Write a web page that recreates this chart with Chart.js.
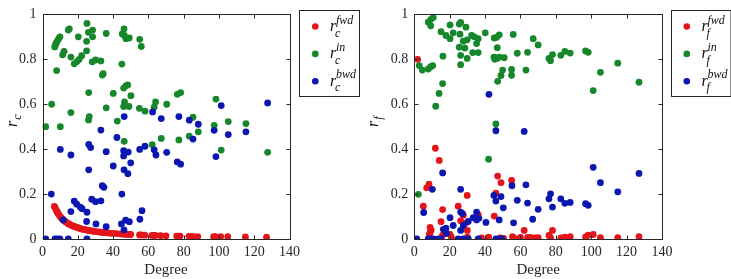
<!DOCTYPE html>
<html>
<head>
<meta charset="utf-8">
<script src="https://cdn.jsdelivr.net/npm/chart.js@4.4.1/dist/chart.umd.min.js"></script>
<style>
html, body { margin: 0; padding: 0; background: #fff; }
#wrap { position: relative; width: 731px; height: 279px; }
canvas { position: absolute; top: 0; }
</style>
</head>
<body>
<div id="wrap">
	<canvas id="left" width="365" height="279" style="left:0"></canvas>
	<canvas id="right" width="366" height="279" style="left:365px"></canvas>
</div>
<script>
// axis ticks
var xTicks = [0, 20, 40, 60, 80, 100, 120, 140];
var yTicks = [0, 0.2, 0.4, 0.6, 0.8, 1];
var seriesSup = ["fwd", "in", "bwd"];
var seriesColors = ["#e3151b", "#17872b", "#0b17b0"];

// left panel : r_c  ([degree, value])
var cFwd = [[6.7,0.145],[7.1,0.141],[7.6,0.132],[8,0.125],[8.4,0.119],[8.8,0.114],[9.3,0.108],[9.9,0.101],[10.5,0.095],
	[11.2,0.089],[11.8,0.085],[12.4,0.081],[13,0.077],[13.7,0.073],[14.6,0.068],[15.2,0.066],[16.1,0.062],[17,0.059],
	[18,0.056],[19,0.053],[20,0.05],[21,0.048],[22,0.045],[23,0.043],[24,0.042],[25,0.04],[26,0.038],[27,0.037],
	[28,0.036],[29,0.034],[30,0.033],[31.5,0.032],[33,0.03],[34,0.029],[35,0.029],[36,0.028],[38,0.026],[40,0.025],
	[42,0.024],[44,0.023],[45,0.022],[46,0.022],[47,0.021],[48,0.021],[49,0.02],[50,0.02],[55,0.018],[56,0.018],
	[58,0.017],[62,0.016],[63,0.016],[64,0.016],[67,0.015],[70,0.014],[76,0.013],[77,0.013],[78,0.013],[83,0.012],
	[85,0.012],[88,0.011],[97,0.01],[98,0.01],[101,0.01],[105,0.01],[115,0.009],[127,0.008]];
var cIn = [[1.8,0.50],[5.2,0.60],[8,0.75],[6.9,0.855],[7.3,0.862],[7.7,0.872],[8.4,0.882],[9.2,0.892],[9.9,0.90],
	[10.1,0.50],[11.4,0.82],[12.2,0.835],[14.6,0.93],[15.2,0.935],[16.1,0.81],[16.1,0.563],[18,0.78],[19.5,0.79],
	[20.3,0.90],[20.8,0.80],[22.2,0.816],[25,0.838],[25.2,0.96],[25,0.88],[26,0.92],[26.2,0.652],[26.1,0.53],
	[26.5,0.545],[28.4,0.93],[28.4,0.90],[28.2,0.789],[30.1,0.797],[33.1,0.793],[33.9,0.73],[34.4,0.736],[36.1,0.915],
	[36.1,0.584],[40.1,0.648],[42.4,0.525],[45,0.779],[45.2,0.913],[46.2,0.935],[46.4,0.906],[47.3,0.892],[49.2,0.895],
	[46,0.672],[47.3,0.682],[48.3,0.686],[50.1,0.638],[46.5,0.61],[46,0.59],[49,0.59],[46.3,0.435],[55.1,0.889],
	[56,0.857],[54.9,0.582],[58.1,0.569],[62.2,0.42],[63.3,0.587],[64.1,0.61],[67.3,0.448],[70.4,0.60],[76.4,0.644],
	[78.3,0.652],[77.3,0.441],[83.2,0.458],[85.3,0.542],[88.3,0.477],[97.3,0.506],[98.3,0.623],[101.3,0.396],
	[105.3,0.523],[115.3,0.514],[127.6,0.386]];
var cBwd = [[1.8,0],[7.1,0],[8.4,0],[9.9,0],[14.6,0],[25.2,0],[5,0.20],[10.1,0.399],[11.8,0.085],[16.1,0.374],
	[16.1,0.122],[18,0.169],[19.4,0.155],[21.4,0.142],[22.4,0.135],[25.2,0.119],[25,0.078],[26.2,0.421],[27.3,0.407],
	[26.2,0.308],[27.9,0.177],[30.1,0.166],[33.1,0.17],[30.3,0.067],[33.1,0.485],[33.9,0.237],[34.8,0.23],[36.1,0.389],
	[36.1,0.055],[40.1,0.325],[42.2,0.452],[44.7,0.067],[45,0.20],[46.2,0.041],[46.3,0.545],[46,0.393],[46,0.37],
	[46.2,0.308],[47.1,0.084],[48.4,0.291],[48.6,0.387],[49.2,0.077],[50,0.339],[55.2,0.088],[56.4,0.126],[55.1,0.399],
	[58.1,0.413],[62.4,0.566],[63.3,0.397],[64.3,0.374],[67.3,0.536],[70.4,0.386],[76.4,0.343],[78.3,0.333],[77.3,0.545],
	[83.2,0.529],[85.3,0.445],[88.3,0.511],[97.3,0.484],[98.3,0.367],[101.3,0.594],[105.3,0.465],[115.3,0.477],[127.6,0.606]];

// right panel : r_f
var fFwd = [[1.9,0.80],[5.1,0.146],[7,0.228],[8.3,0.244],[8.9,0.052],[9.5,0.04],[8.5,0.02],[9,0.03],[11.9,0.404],
	[14.1,0.35],[15.1,0.077],[16,0.131],[16,0.017],[20.2,0.02],[21,0.008],[24.8,0.146],[26.2,0.081],[27.7,0.106],
	[29,0.071],[29.9,0.194],[30,0.038],[30,0.008],[36.1,0.108],[38,0.005],[42,0.008],[45.2,0.102],[46.1,0.204],
	[47.1,0.28],[49,0.251],[48.5,0.005],[50.5,0.003],[55,0.261],[55.5,0.01],[57,0.002],[60,0.007],[62.1,0.038],
	[64,0.007],[65.5,0.007],[68.2,0.005],[70,0.006],[76.1,0.016],[77,0.006],[78.1,0.038],[82.8,0.005],[85.1,0.008],
	[88.1,0.01],[96.8,0.009],[98.3,0.017],[101.1,0.02],[105.2,0.006],[115,0.006],[127,0.01]];
var fIn = [[2.3,0.199],[2.8,0.772],[4.5,0.752],[7.9,0.757],[9.3,0.767],[10.4,0.772],[7.9,0.965],[9.4,0.978],
	[10.7,0.986],[9.3,0.949],[12.1,0.591],[14,0.648],[16,0.692],[16.2,0.814],[15.1,0.923],[17.9,0.906],[20.2,0.892],
	[20.2,0.953],[22,0.918],[25.4,0.957],[26.2,0.964],[25.8,0.912],[29.2,0.943],[27.7,0.881],[25.4,0.854],[28.6,0.85],
	[29.9,0.887],[26.2,0.818],[29.9,0.804],[26.2,0.776],[32.4,0.906],[33.9,0.90],[36.1,0.892],[35.2,0.87],[33,0.83],
	[36.1,0.83],[40.1,0.918],[42,0.355],[45.2,0.895],[46.5,0.898],[48,0.909],[46.9,0.852],[45,0.81],[46.9,0.805],
	[48,0.81],[45.5,0.80],[50.8,0.807],[49.9,0.752],[49,0.728],[47.1,0.702],[46.1,0.512],[55.9,0.911],[55,0.755],
	[55,0.729],[58.2,0.827],[63.1,0.752],[64,0.831],[67.2,0.892],[70,0.864],[76.1,0.804],[77,0.794],[78.1,0.821],
	[82.8,0.818],[85.1,0.835],[88.1,0.828],[96.8,0.837],[98.3,0.831],[101.1,0.661],[105.2,0.742],[115,0.783],[127,0.698]];
var fBwd = [[1.4,0],[7.9,0],[9.3,0],[10.7,0],[13.6,0],[15.1,0],[24.8,0],[27.7,0],[30.5,0],[36.1,0],[46.1,0],[48,0],
	[49.5,0],[5.3,0.118],[10.2,0.221],[16,0.294],[16.4,0.043],[17.9,0.048],[18.2,0.025],[20.2,0.095],[22,0.06],
	[26.2,0.221],[26.2,0.12],[27.2,0.113],[27.7,0.06],[26.2,0.038],[30.5,0.078],[33.3,0.095],[35.2,0.085],[35.2,0.12],
	[36.5,0.092],[40.5,0.074],[42.2,0.644],[45,0.194],[46.1,0.169],[46.1,0.482],[48,0.085],[49,0.189],[50.3,0.139],
	[55.2,0.237],[56.1,0.072],[58.2,0.172],[62.1,0.479],[63.1,0.241],[64,0.16],[66.9,0.088],[70,0.132],[76.1,0.179],
	[77,0.201],[78.1,0.142],[82.8,0.179],[85.1,0.159],[88.1,0.163],[96.8,0.157],[98.3,0.15],[101.1,0.319],[105.2,0.251],
	[115,0.21],[127,0.292]];

var axisColor = "#262626";
var serif = "Liberation Serif, serif";

function toPoints(arr) {
	return arr.map(function (p) { return { x: p[0], y: p[1] }; });
}

// box, inward ticks, legend and the y title (with sub/superscripts)
var framePlugin = {
	id: "frame",
	afterDraw: function (chart) {
		var o = chart.options.plugins.frame;
		var ctx = chart.ctx;
		var a = chart.chartArea;
		var sx = chart.scales.x, sy = chart.scales.y;
		var L = Math.round(a.left) + 0.5, R = Math.round(a.right) + 0.5;
		var T = Math.round(a.top) + 0.5, B = Math.round(a.bottom) + 0.5;
		ctx.save();
		ctx.strokeStyle = axisColor;
		ctx.lineWidth = 1;
		ctx.strokeRect(L, T, R - L, B - T);
		ctx.beginPath();
		xTicks.forEach(function (v) {
			var px = Math.round(sx.getPixelForValue(v)) + 0.5;
			ctx.moveTo(px, B); ctx.lineTo(px, B - 4);
			ctx.moveTo(px, T); ctx.lineTo(px, T + 4);
		});
		yTicks.forEach(function (v) {
			var py = Math.round(sy.getPixelForValue(v)) + 0.5;
			ctx.moveTo(L, py); ctx.lineTo(L + 4, py);
			ctx.moveTo(R, py); ctx.lineTo(R - 4, py);
		});
		ctx.stroke();

		// legend
		var b = o.legendBox;
		ctx.fillStyle = "#fff";
		ctx.fillRect(b.x, b.y, b.w, b.h);
		ctx.strokeRect(Math.round(b.x) + 0.5, Math.round(b.y) + 0.5, b.w, b.h);
		seriesSup.forEach(function (sup, i) {
			var cy = b.y + 16.5 + i * 27.4;
			ctx.fillStyle = seriesColors[i];
			ctx.beginPath();
			ctx.arc(b.x + 16.3, cy, 3.3, 0, Math.PI * 2);
			ctx.fill();
			ctx.fillStyle = "#111";
			ctx.textAlign = "left";
			ctx.textBaseline = "alphabetic";
			ctx.font = "italic 16px " + serif;
			ctx.fillText("r", b.x + 31, cy + 4.5);
			ctx.font = "italic 12px " + serif;
			ctx.fillText(sup, b.x + 37, cy - 3);
			ctx.fillText(o.sub, b.x + 36, cy + 10);
		});

		// y title, rotated
		ctx.translate(o.titleX, 121);
		ctx.rotate(-Math.PI / 2);
		ctx.fillStyle = "#111";
		ctx.textAlign = "left";
		ctx.textBaseline = "alphabetic";
		ctx.font = "italic 16px " + serif;
		ctx.fillText("r", -6, 0);
		var w = ctx.measureText("r").width;
		ctx.font = "italic 12px " + serif;
		ctx.fillText(o.sub, -6 + w + 1, 4);
		ctx.restore();
	}
};

function makePanel(id, fwd, inn, bwd, sub, yWidth, rightPad, legendBox, titleX) {
	var lists = [fwd, inn, bwd];
	var datasets = lists.map(function (arr, i) {
		return {
			label: "r" + sub + " " + seriesSup[i],
			data: toPoints(arr),
			backgroundColor: seriesColors[i],
			borderWidth: 0,
			pointRadius: 3.4,
			pointHoverRadius: 3.4,
			order: 2 - i
		};
	});
	var tickFont = { family: serif, size: 14 };
	return new Chart(document.getElementById(id), {
		type: "scatter",
		data: { datasets: datasets },
		options: {
			responsive: false,
			animation: false,
			devicePixelRatio: 1,
			layout: { padding: { left: 0, right: rightPad, top: 4, bottom: 0 } },
			plugins: {
				legend: { display: false },
				tooltip: { enabled: false },
				frame: { legendBox: legendBox, sub: sub, titleX: titleX }
			},
			scales: {
				x: {
					type: "linear", min: 0, max: 140,
					ticks: { stepSize: 20, color: axisColor, font: tickFont, padding: 5, maxRotation: 0 },
					grid: { display: false, drawTicks: false },
					border: { display: false },
					title: { display: true, text: "Degree", color: axisColor, font: { family: serif, size: 15 }, padding: 0 },
					afterFit: function (s) { s.height = 40; }
				},
				y: {
					min: 0, max: 1,
					ticks: {
						stepSize: 0.2, color: axisColor, font: tickFont, padding: 6,
						callback: function (v) { return String(Math.round(v * 10) / 10); }
					},
					grid: { display: false, drawTicks: false },
					border: { display: false },
					afterFit: function (s) { s.width = yWidth; }
				}
			}
		},
		plugins: [framePlugin]
	});
}

makePanel("left", cFwd, cIn, cBwd, "c", 42.5, 75.5, { x: 299, y: 10, w: 60, h: 86 }, 17);
makePanel("right", fFwd, fIn, fBwd, "f", 49.3, 69, { x: 305.5, y: 10, w: 59.5, h: 86 }, 13);
</script>
</body>
</html>
